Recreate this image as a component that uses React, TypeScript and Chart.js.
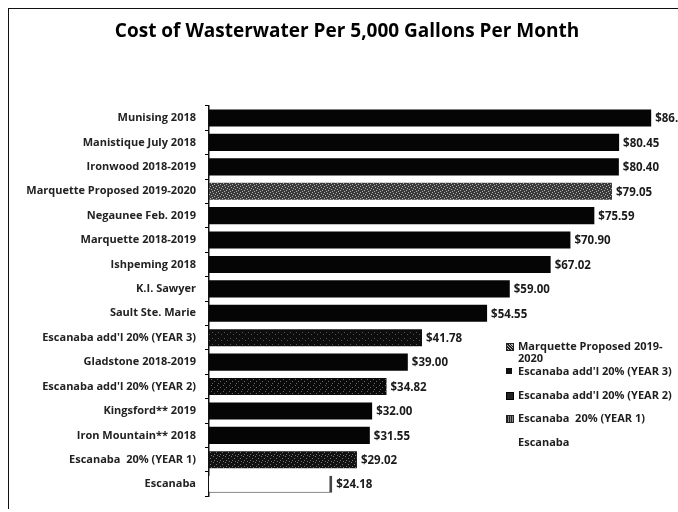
import React, { useEffect, useRef } from "react";
import { Chart, registerables } from "chart.js";

Chart.register(...registerables);

const chartTitle = "Cost of Wasterwater Per 5,000 Gallons Per Month";

const categories = [
  "Munising 2018",
  "Manistique July 2018",
  "Ironwood 2018-2019",
  "Marquette Proposed 2019-2020",
  "Negaunee Feb. 2019",
  "Marquette 2018-2019",
  "Ishpeming 2018",
  "K.I. Sawyer",
  "Sault Ste. Marie",
  "Escanaba add'l 20% (YEAR 3)",
  "Gladstone 2018-2019",
  "Escanaba add'l 20% (YEAR 2)",
  "Kingsford** 2019",
  "Iron Mountain** 2018",
  "Escanaba  20% (YEAR 1)",
  "Escanaba",
];

const costs = [
  86.74, 80.45, 80.4, 79.05, 75.59, 70.9, 67.02, 59.0, 54.55, 41.78, 39.0,
  34.82, 32.0, 31.55, 29.02, 24.18,
];

const seriesNames = [
  "Communities",
  "Marquette Proposed 2019-2020",
  "Escanaba add'l 20% (YEAR 3)",
  "Escanaba add'l 20% (YEAR 2)",
  "Escanaba  20% (YEAR 1)",
  "Escanaba",
];

// index into seriesNames for every category
const seriesOfCategory = [0, 0, 0, 1, 0, 0, 0, 0, 0, 2, 0, 3, 0, 0, 4, 5];

function makePattern(base: string, speck: string, spots: number[][]) {
  const c = document.createElement("canvas");
  c.width = 6;
  c.height = 6;
  const g = c.getContext("2d")!;
  g.fillStyle = base;
  g.fillRect(0, 0, 6, 6);
  g.fillStyle = speck;
  spots.forEach(([x, y]) => g.fillRect(x, y, 1, 1));
  return g.createPattern(c, "repeat")!;
}

const valueLabels = {
  id: "valueLabels",
  afterDatasetsDraw(chart: any) {
    const ctx = chart.ctx;
    ctx.save();
    ctx.font = "bold 11.5px 'Open Sans'";
    ctx.fillStyle = "#1a1a1a";
    ctx.textBaseline = "middle";
    ctx.textAlign = "left";
    chart.data.datasets.forEach((ds: any, di: number) => {
      const meta = chart.getDatasetMeta(di);
      meta.data.forEach((el: any, i: number) => {
        const v = ds.data[i];
        if (v == null) return;
        ctx.fillText("$" + v.toFixed(2), el.x + 4, el.y + 1);
      });
    });
    ctx.restore();
  },
};

const markerStyles: Record<number, React.CSSProperties> = {
  1: {
    background: "repeating-linear-gradient(45deg,#222 0 1px,#bbb 1px 2px)",
    border: "1px solid #222",
  },
  2: { background: "#111" },
  3: { background: "#222", border: "1px solid #000" },
  4: {
    background: "repeating-linear-gradient(90deg,#222 0 1px,#888 1px 2px)",
    border: "1px solid #222",
  },
  5: { background: "transparent" },
};

export default function App() {
  const canvasRef = useRef<HTMLCanvasElement | null>(null);

  useEffect(() => {
    if (!canvasRef.current) return;
    const fills: any[] = [
      "#050505",
      makePattern("#3a3a3a", "#b0b0b0", [
        [0, 0], [3, 1], [1, 3], [4, 4], [2, 5], [5, 2],
      ]),
      makePattern("#0d0d0d", "#555", [[2, 2], [5, 4]]),
      makePattern("#0a0a0a", "#666", [[1, 1], [4, 3], [2, 5]]),
      makePattern("#111", "#777", [[0, 2], [3, 0], [4, 4], [1, 5]]),
      "#ffffff",
    ];
    const datasets = seriesNames.map((name, s) => ({
      label: name,
      data: categories.map((_, i) =>
        seriesOfCategory[i] === s ? costs[i] : null
      ),
      backgroundColor: fills[s],
      borderColor: s === 5 ? "#444" : "#000",
      borderWidth: s === 5 ? { top: 0, left: 0, right: 3, bottom: 1 } : 0,
      borderSkipped: false as any,
      categoryPercentage: 1,
      barPercentage: 0.7,
    }));

    const chart = new Chart(canvasRef.current, {
      type: "bar",
      data: { labels: categories, datasets },
      options: {
        indexAxis: "y",
        responsive: false,
        animation: false,
        layout: { padding: { left: 16, right: 0, top: 0, bottom: 11 } },
        plugins: {
          legend: { display: false },
          tooltip: { enabled: false },
          title: {
            display: true,
            text: chartTitle,
            color: "#000",
            font: { family: "Open Sans", size: 19, weight: "bold" },
            padding: { top: 20, bottom: 63 },
          },
        },
        scales: {
          x: { stacked: true, min: 0, max: 92, display: false },
          y: {
            stacked: true,
            grid: {
              display: true,
              drawOnChartArea: false,
              drawTicks: true,
              tickLength: 4,
              color: "#000",
              offset: true,
            },
            border: { display: true, color: "#111", width: 1.5 },
            ticks: {
              color: "#222",
              autoSkip: false,
              padding: 9,
              font: { family: "Open Sans", size: 11, weight: "bold" },
            },
            afterFit: (s: any) => {
              s.width = 193;
            },
          },
        },
      },
      plugins: [valueLabels],
    });
    return () => chart.destroy();
  }, []);

  const legendRows = [
    { s: 1, top: 340, lines: ["Marquette Proposed 2019-", "2020"] },
    { s: 2, top: 365, lines: ["Escanaba add'l 20% (YEAR 3)"] },
    { s: 3, top: 389, lines: ["Escanaba add'l 20% (YEAR 2)"] },
    { s: 4, top: 412, lines: ["Escanaba  20% (YEAR 1)"] },
    { s: 5, top: 436, lines: ["Escanaba"] },
  ];

  return (
    <div
      style={{
        position: "absolute",
        left: 0,
        top: 0,
        width: 678,
        height: 512,
        background: "#fff",
        overflow: "hidden",
      }}
    >
      <canvas ref={canvasRef} width={678} height={512} />
      <div
        style={{
          position: "absolute",
          left: 8,
          top: 8,
          width: 700,
          height: 500,
          borderTop: "1.5px solid #111",
          borderLeft: "1.5px solid #111",
          pointerEvents: "none",
        }}
      />
      {legendRows.map((r) => (
        <div
          key={r.s}
          style={{
            position: "absolute",
            left: 506,
            top: r.top,
            fontFamily: "'Open Sans'",
            fontWeight: 700,
            fontSize: 11,
            lineHeight: "12px",
            color: "#1e1e1e",
            whiteSpace: "pre",
          }}
        >
          <span
            style={{
              position: "absolute",
              left: 0,
              top: 3,
              width: 6,
              height: 6,
              ...markerStyles[r.s],
            }}
          />
          <div style={{ marginLeft: 12 }}>
            {r.lines.map((l, i) => (
              <div key={i}>{l}</div>
            ))}
          </div>
        </div>
      ))}
    </div>
  );
}
